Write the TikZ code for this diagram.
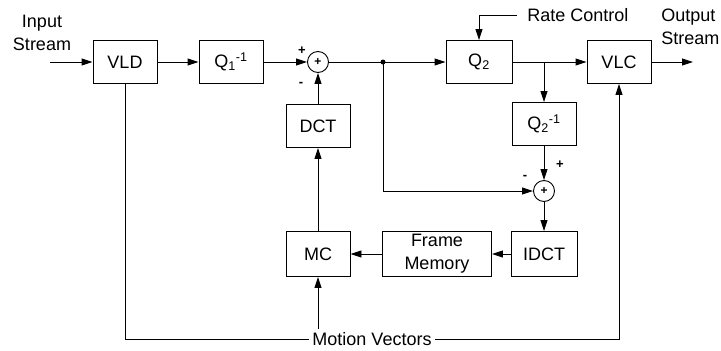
\documentclass[tikz,border=0pt]{standalone}
\usepackage{fontspec}
\setmainfont{Liberation Sans}
\usetikzlibrary{arrows.meta}

\begin{document}
\begin{tikzpicture}[>={Triangle[length=11pt, width=7pt]}, x=1pt, y=-1pt, line width=0.9pt,
  font=\fontsize{18}{23}\selectfont,
  block/.style={draw, minimum width=64pt, minimum height=43pt, inner sep=0pt, align=center},
  summer/.style={draw, circle, minimum size=21pt, inner sep=0pt, font=\fontsize{12}{12}\selectfont\bfseries},
  sign/.style={inner sep=0pt, font=\fontsize{13}{13}\selectfont\bfseries}]
  \useasboundingbox (0,0) rectangle (721,351);
  % ---------------------------------------------------------------- decoder side: VLD, Q1^-1 and the drift loop
  \node[align=center] (in) at (42,33) {Input\\Stream};
  \coordinate (src) at (50,62);
  \node[block] (vld) at (125,62) {VLD};
  \node[block] (qa) at (231,62) {Q\textsubscript{1}\textsuperscript{-1}};
  \node[summer] (suma) at (318,62) {+};
  \node[sign] (pa) at (302,51) {+};
  \node[sign] (ma) at (301,84) {-};
  \node[block] (dct) at (318,126) {DCT};
  \node[block, minimum height=45pt] (mc) at (318,254) {MC};
  % ---------------------------------------------------------------- encoder side: Q2, VLC and the local decoder
  \node[inner xsep=3pt] (rate) at (578,15) {Rate Control};
  \node[block, minimum width=66pt] (qb) at (479,62) {Q\textsubscript{2}};
  \node[block] (vlc) at (619,62) {VLC};
  \node[align=left, anchor=west, inner sep=0pt] (out) at (661,27) {Output\\Stream};
  \coordinate (sink) at (693,62);
  \coordinate (tap) at (383,62);
  \coordinate (split) at (544,62);
  \node[block] (qbinv) at (544,124) {Q\textsubscript{2}\textsuperscript{-1}};
  \node[summer] (sumb) at (544,191) {+};
  \node[sign] (pb) at (560,165) {+};
  \node[sign] (mb) at (525,177) {-};
  \node[block, minimum width=66pt, minimum height=45pt] (idct) at (544,254) {IDCT};
  \node[block, minimum width=109pt, minimum height=45pt] (fm) at (437,254) {Frame\\Memory};
  \node[inner xsep=3pt] (mv) at (372,339) {Motion Vectors};
  % ---------------------------------------------------------------- signal paths
  \draw[->] (src) -- (vld);
  \draw[->] (vld) -- (qa);
  \draw[->] (qa) -- (suma);
  \draw[->] (dct) -- (suma);
  \draw[->] (mc) -- (dct);
  \draw[->] (suma) -- (qb);
  \fill (tap) circle (2.5pt);
  \draw[->] (tap) |- (sumb);
  \draw[->] ([xshift=-7pt]rate.west) -| (qb);
  \draw[->] (qb) -- (vlc);
  \draw[->] (vlc) -- (sink);
  \draw[->] (split) -- (qbinv);
  \draw[->] (qbinv) -- (sumb);
  \draw[->] (sumb) -- (idct);
  \draw[->] (idct) -- (fm);
  \draw[->] (fm) -- (mc);
  % motion vectors are passed on from the decoder to MC and VLC
  \draw (mv.west) -| (vld);
  \draw[->] (mv.east) -| (vlc);
  \draw[->] (mv.north -| mc) -- (mc);
\end{tikzpicture}
\end{document}
